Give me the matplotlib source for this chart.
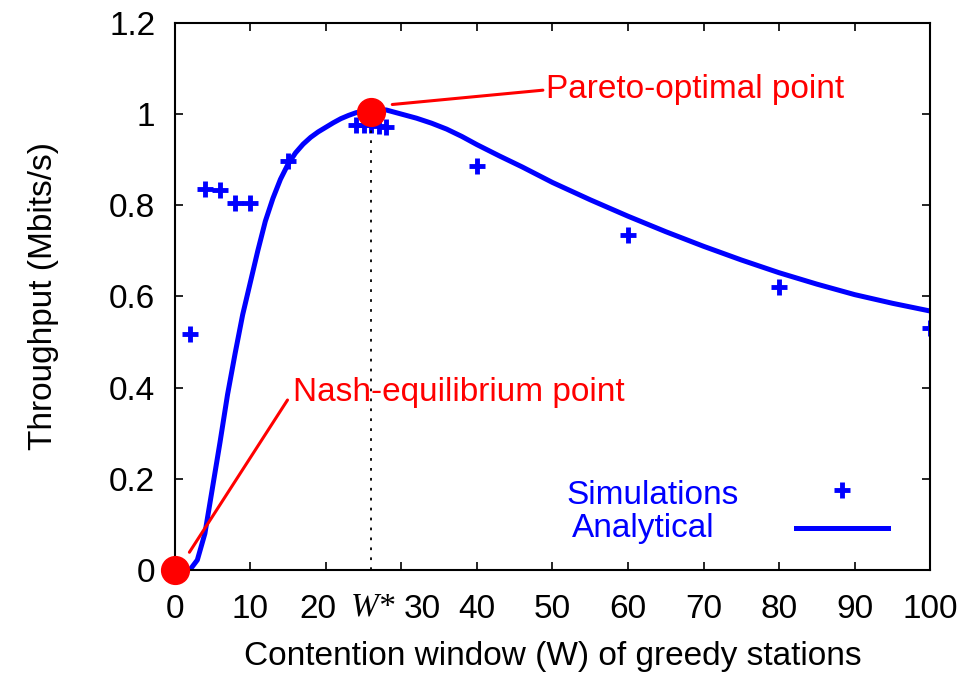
import numpy as np
import matplotlib.pyplot as plt
from matplotlib.lines import Line2D
from matplotlib.transforms import ScaledTranslation

plt.rcParams['font.family'] = ['Liberation Sans', 'DejaVu Sans']

# simulation results
sim_w = [2, 4, 6, 8, 10, 15, 24, 25, 26, 27, 28, 40, 60, 80, 100]
sim_tp = [0.518, 0.835, 0.833, 0.804, 0.806, 0.897, 0.977, 0.976, 0.975, 0.973, 0.971,
          0.886, 0.735, 0.62, 0.53]

# analytical model
ana_w = [2, 3, 4, 5, 6, 7, 8, 9, 10, 11, 12, 13, 14, 15, 16, 17, 18, 19, 20, 21, 22,
         23, 24, 26, 28, 30, 32, 34, 36, 38, 40, 43, 46, 50, 55, 60, 65, 70, 75, 80,
         85, 90, 95, 100]
ana_tp = [0.0, 0.022, 0.08, 0.18, 0.28, 0.385, 0.475, 0.56, 0.63, 0.70, 0.765, 0.815,
          0.857, 0.89, 0.915, 0.934, 0.949, 0.961, 0.971, 0.981, 0.99,
          0.997, 1.003, 1.01, 1.009, 1.0, 0.991, 0.98, 0.967, 0.951, 0.933, 0.908,
          0.884, 0.85, 0.812, 0.776, 0.742, 0.71, 0.68, 0.652, 0.627, 0.604, 0.585,
          0.568]

w_star = 26
pareto = (26, 1.005)
nash = (0, 0)

xticks = [0, 10, 20, 30, 40, 50, 60, 70, 80, 90, 100]
yticks = [0, 0.2, 0.4, 0.6, 0.8, 1.0, 1.2]
ylabels = ['0', '0.2', '0.4', '0.6', '0.8', '1', '1.2']

fs = 24
blue = '#0000ff'

fig = plt.figure(figsize=(9.65, 6.73), dpi=100)
ax = fig.add_axes([0.181, 0.153, 0.783, 0.813])

ax.plot(sim_w, sim_tp, '+', color=blue, ms=11, mew=3.5)
ax.plot(ana_w, ana_tp, '-', color=blue, lw=3.6)

ax.plot([w_star, w_star], [0, pareto[1]], color='black', lw=1.3,
        linestyle=(0, (1.5, 4)))

ax.plot(*pareto, 'o', color='red', ms=20, clip_on=False, zorder=5)
ax.plot(*nash, 'o', color='red', ms=20, clip_on=False, zorder=5)

ax.annotate('Pareto-optimal point', xy=(28.8, 1.021), xytext=(49.1, 1.053),
            color='red', fontsize=fs, va='center', ha='left',
            arrowprops=dict(arrowstyle='-', color='red', lw=2.2,
                            shrinkA=0, shrinkB=0, relpos=(0, 0.5)))
ax.annotate('Nash-equilibrium point', xy=(1.95, 0.039), xytext=(15.6, 0.39),
            color='red', fontsize=fs, va='center', ha='left',
            arrowprops=dict(arrowstyle='-', color='red', lw=2.2,
                            shrinkA=3, shrinkB=0, relpos=(0, 0.5)))

ax.set_xlim(0, 100)
ax.set_ylim(0, 1.2)
ax.set_xticks(xticks)
ax.set_xticklabels([str(t) for t in xticks])
ax.set_yticks(yticks)
ax.set_yticklabels(ylabels)
ax.tick_params(direction='in', length=6, width=1.2, top=True, right=True,
               labelsize=fs)
ax.tick_params(axis='x', pad=17)
ax.tick_params(axis='y', pad=14)
for s in ax.spines.values():
    s.set_linewidth(1.5)

# make room for the W* label between 20 and 30
shifts = {'20': -6, '30': 15}
for lab in ax.get_xticklabels():
    dx = shifts.get(lab.get_text(), 0)
    if dx:
        lab.set_transform(lab.get_transform() +
                          ScaledTranslation(dx / 72, 0, fig.dpi_scale_trans))

ax.text(w_star + 0.3, -0.04, 'W*', transform=ax.get_xaxis_transform(),
        ha='center', va='top', fontsize=fs, family='Liberation Serif',
        style='italic')

ax.set_xlabel('Contention window (W) of greedy stations', fontsize=fs, labelpad=12)
ax.set_ylabel('Throughput (Mbits/s)', fontsize=fs, labelpad=36)

# key: labels written as text, samples drawn by a handle-only legend
ax.text(0.519, 0.136, 'Simulations', transform=ax.transAxes, color=blue,
        fontsize=fs, ha='left', va='center')
ax.text(0.526, 0.075, 'Analytical', transform=ax.transAxes, color=blue,
        fontsize=fs, ha='left', va='center')
handles = [Line2D([], [], ls='none', marker='+', color=blue, ms=11, mew=3.5),
           Line2D([], [], color=blue, lw=3.6)]
ax.legend(handles, ['', ''], loc='lower right', bbox_to_anchor=(0.944, 0.043),
          frameon=False, fontsize=fs, handlelength=2.75, handletextpad=0,
          labelspacing=0.2, borderpad=0, borderaxespad=0)

fig.savefig('out.png', dpi=100)
